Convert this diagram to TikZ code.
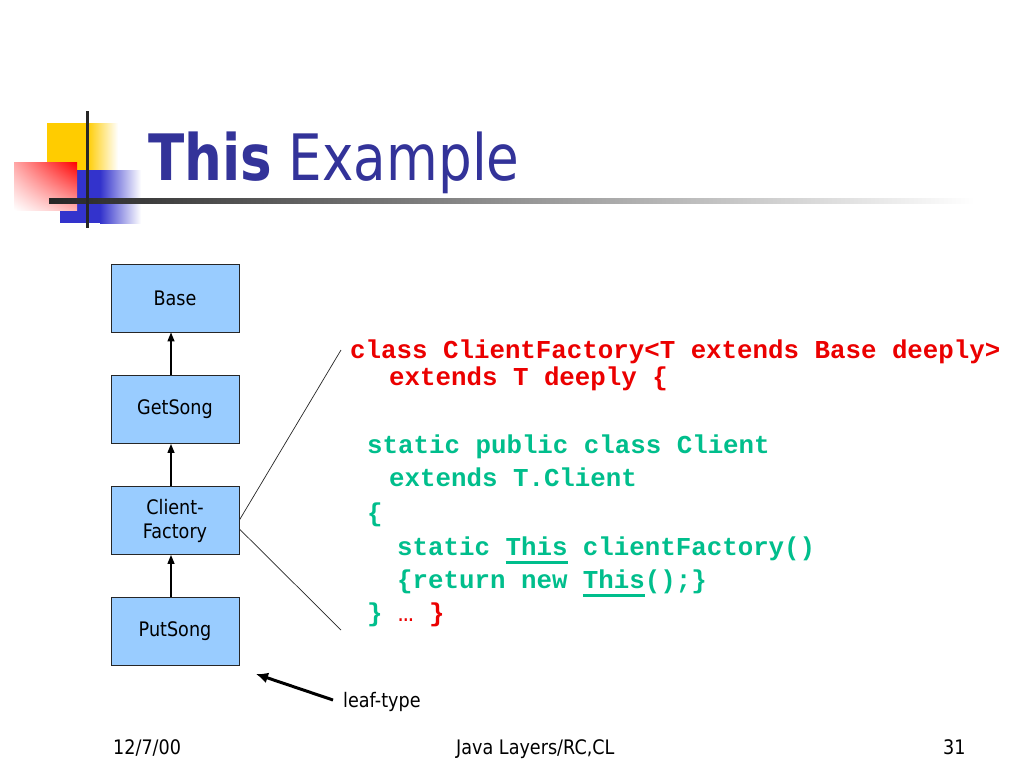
\documentclass[tikz,border=0pt]{standalone}
\usepackage{fontspec}
\usetikzlibrary{arrows.meta,shadings}
\newfontfamily\tahoma[FakeStretch=0.88]{DejaVu Sans}
\newfontfamily\titlefont[FakeStretch=0.83]{DejaVu Sans}
\newfontfamily\codefont{Liberation Mono}
\definecolor{titleblue}{RGB}{51,51,153}
\definecolor{boxblue}{RGB}{153,204,255}
\definecolor{codered}{RGB}{235,0,0}
\definecolor{codegreen}{RGB}{0,190,140}
\definecolor{logoyellow}{RGB}{255,204,0}
\definecolor{logoblue}{RGB}{51,51,204}
\definecolor{logored}{RGB}{255,0,0}
\newcommand\ulx[1]{\leavevmode\setbox0=\hbox{#1}\rlap{\rule[-8.5pt]{\wd0}{2.8pt}}\box0\relax}
\begin{document}
\begin{tikzpicture}[x=1pt,y=-1pt,
  cbox/.style={draw=black!85, fill=boxblue, line width=0.9pt, minimum width=128pt, minimum height=68pt, inner sep=0pt, font=\tahoma\fontsize{20}{24}\selectfont},
  uparr/.style={line width=1.3pt, -{Triangle[length=9pt,width=7pt]}},
  thinline/.style={line width=0.7pt, black!85},
  leafarr/.style={line width=3pt, -{Latex[length=12pt,width=11pt]}},
  code/.style={anchor=base west, inner sep=0pt, font=\codefont\bfseries\fontsize{25.8}{30}\selectfont},
  foot/.style={anchor=base west, inner sep=0pt, font=\tahoma\fontsize{20}{24}\selectfont}]
\fill[white] (0,0) rectangle (1024,768);
\useasboundingbox (0,0) rectangle (1024,768);
% logo
\fill[logoyellow] (47,123) rectangle (87,172);
\shade[left color=logoyellow, right color=white] (87,123) rectangle (118,172);
\fill[logoblue] (60,170) rectangle (100,223);
\shade[left color=logoblue, right color=white] (100,170) rectangle (141,223);
\shade[upper left=logored!35, upper right=logored, lower left=white, lower right=logored!30] (14,162) rectangle (77,210);
\shade[left color=black!85, right color=white] (49,198) rectangle (975,203);
\fill[black!85] (85.5,111) rectangle (89,228);
% title
\node[anchor=base west, inner sep=0pt, text=titleblue, font=\titlefont\fontsize{64}{70}\selectfont] (title) at (148,180) {{\bfseries This} Example};
% boxes
\node[cbox] (base) at (175,298) {Base};
\node[cbox] (get) at (175,409.5) {GetSong};
\node[cbox, align=center] (cf) at (175,520.5) {Client-\\Factory};
\node[cbox] (put) at (175,631) {PutSong};
\draw[uparr] ([xshift=-4pt]get.north) -- ([xshift=-4pt]base.south);
\draw[uparr] ([xshift=-4pt]cf.north) -- ([xshift=-4pt]get.south);
\draw[uparr] ([xshift=-4pt]put.north) -- ([xshift=-4pt]cf.south);
% zoom lines
\coordinate (t1) at (341,350);
\coordinate (t2) at (341,630);
\draw[thinline] ([yshift=0.5pt]cf.east) -- (t1);
\draw[thinline] ([yshift=-8.5pt]cf.east) -- (t2);
% leaf-type
\node[foot] (leaf) at (343,707) {leaf-type};
\coordinate (lf) at (333,700);
\coordinate (lt) at (256,674);
\draw[leafarr] (lf) -- (lt);
% code
\node[code, text=codered] (c1) at (350,358) {class ClientFactory<T extends Base deeply>};
\node[code, text=codered] (c2) at (389,385) {extends T deeply \{};
\node[code, text=codegreen] (c3) at (367,453) {static public class Client};
\node[code, text=codegreen] (c4) at (389,486) {extends T.Client};
\node[code, text=codegreen] (c5) at (367,521) {\{};
\node[code, text=codegreen] (c6) at (397,555) {static \ulx{This} clientFactory()};
\node[code, text=codegreen] (c7) at (397,588) {\{return new \ulx{This}();\}};
\node[code, text=codegreen] (c8) at (367,621) {\}\ \textcolor{codered}{{\mdseries …} \}}};
% footer
\node[foot] (date) at (113,754) {12/7/00};
\node[foot] (mid) at (456,754) {Java Layers/RC,CL};
\node[foot] (num) at (943,754) {31};
\end{tikzpicture}
\end{document}
